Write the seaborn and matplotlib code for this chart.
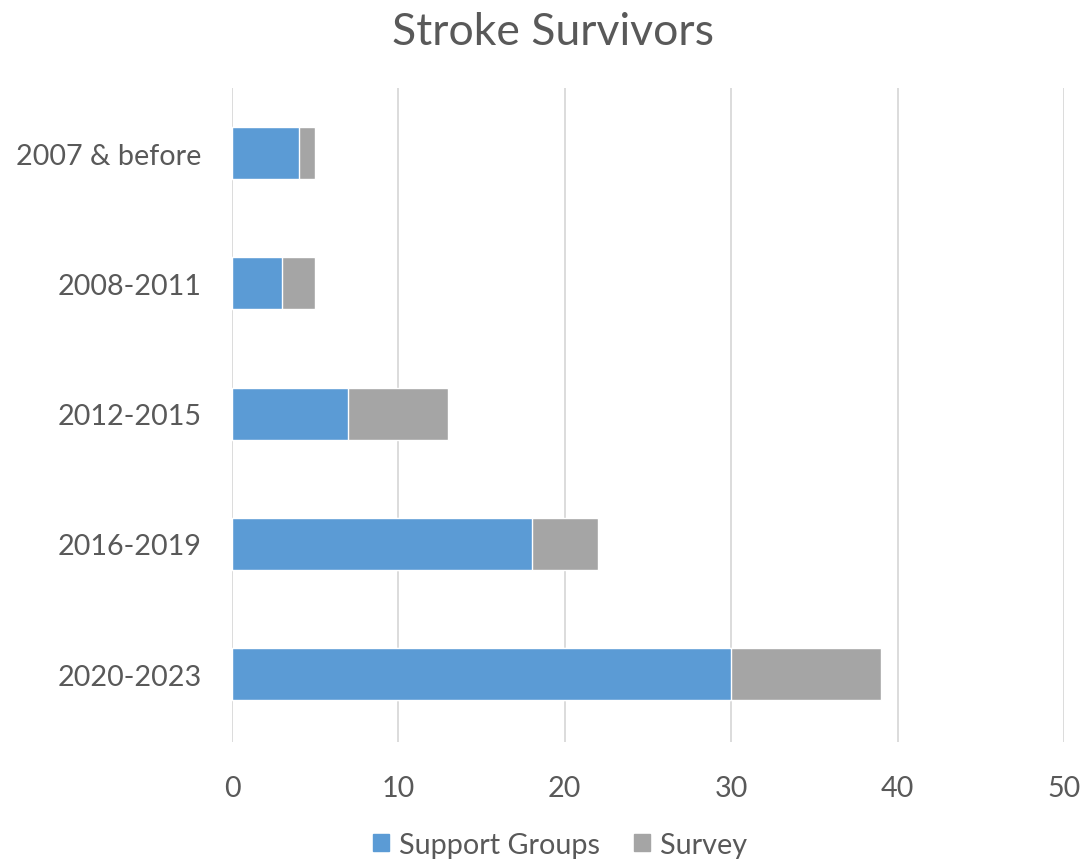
import pandas as pd
import matplotlib
matplotlib.use('Agg')
import matplotlib.pyplot as plt
import seaborn as sns
from matplotlib.patches import Patch

periods = ['2007 & before', '2008-2011', '2012-2015', '2016-2019', '2020-2023']
support_groups = [4, 3, 7, 18, 30]
survey = [1, 2, 6, 4, 9]

blue = '#5B9BD5'
gray = '#A5A5A5'
txt = '#595959'

df = pd.DataFrame({'period': periods, 'support': support_groups, 'survey': survey})
df['total'] = df['support'] + df['survey']

sns.set_theme(style='white')
plt.rcParams['font.family'] = ['Lato', 'DejaVu Sans']

fig = plt.figure(figsize=(10.81, 8.62), dpi=100)
ax = fig.add_axes([0.2146, 0.138, 0.9843 - 0.2146, 0.8968 - 0.138])

# stacked: draw total in gray, then support groups over it
sns.barplot(data=df, y='period', x='total', color=gray, orient='h', width=0.4,
            saturation=1, edgecolor='white', linewidth=1, ax=ax)
sns.barplot(data=df, y='period', x='support', color=blue, orient='h', width=0.4,
            saturation=1, edgecolor='white', linewidth=1, ax=ax)

ax.set_xlim(0, 50)
ax.set_ylim(4.52, -0.5)
ax.set_xticks([0, 10, 20, 30, 40, 50])
ax.xaxis.grid(True, color='#D9D9D9', linewidth=1.3)
ax.set_axisbelow(True)
for s in ax.spines.values():
    s.set_visible(False)
ax.set_xlabel('')
ax.set_ylabel('')
ax.tick_params(axis='both', length=0, labelsize=20.7, colors=txt)
ax.tick_params(axis='x', pad=24)
ax.tick_params(axis='y', pad=22)

fig.suptitle('Stroke Survivors', x=0.512, y=0.986, fontsize=32, color=txt, va='top')

handles = [Patch(color=blue, label='Support Groups'), Patch(color=gray, label='Survey')]
fig.legend(handles=handles, loc='center', bbox_to_anchor=(0.518, 0.019), ncol=2,
           frameon=False, fontsize=20.7, labelcolor=txt, handlelength=0.55,
           handleheight=0.55, handletextpad=0.35, columnspacing=1.2)

fig.savefig('out.png', dpi=100)
